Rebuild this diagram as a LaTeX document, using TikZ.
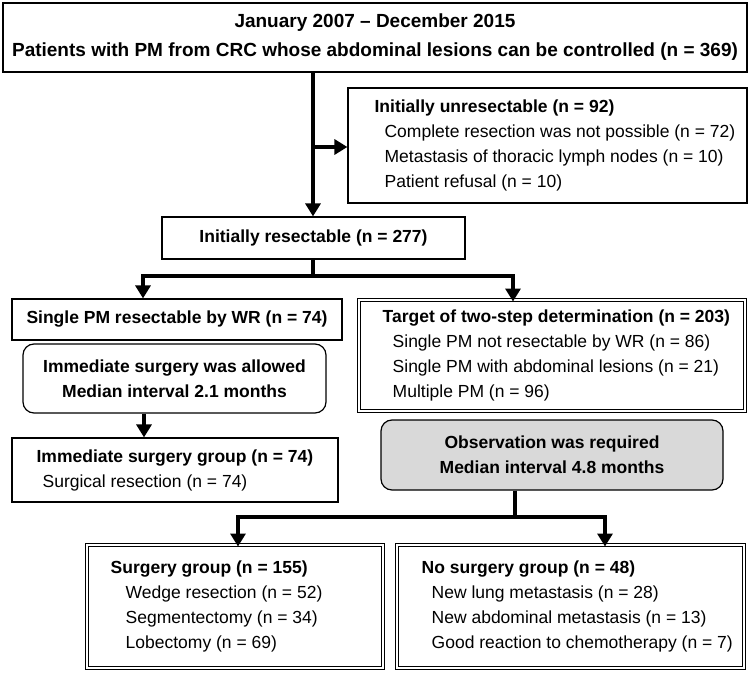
\documentclass[tikz,border=0pt]{standalone}
\usepackage{fontspec}
\setmainfont{Liberation Sans}
\usetikzlibrary{arrows.meta,positioning}
\definecolor{ink}{HTML}{000000}
\definecolor{obsgray}{HTML}{D9D9D9}
\tikzset{
  plainbox/.style={draw=ink,line width=1.2pt,fill=white,inner sep=0pt},
  titlebox/.style={plainbox,align=center,font=\fontsize{17.5}{25}\selectfont\bfseries},
  dblbox/.style={plainbox,line width=1pt,double=white,double distance=2pt},
  roundbox/.style={titlebox,rounded corners=11pt},
  listtext/.style={anchor=west,align=left,inner sep=0pt,font=\fontsize{17.5}{25}\selectfont},
  flow/.style={line width=4.5pt,draw=ink},
  arrow/.style={flow,-{Triangle[length=13pt,width=15pt]}}
}
\newcommand{\subline}[2][10pt]{\\\hspace*{#1}#2}

\begin{document}
\begin{tikzpicture}[x=1pt,y=-1pt]
  \useasboundingbox (0,0) rectangle (750,674);

  \node[titlebox,font=\fontsize{19}{25}\selectfont\bfseries,minimum width=744pt,minimum height=69pt] (top) at (375,37.5)
    {January 2007 – December 2015\\[4pt]Patients with PM from CRC whose abdominal lesions can be controlled (n = 369)};

  \node[plainbox,minimum width=399pt,minimum height=115pt] (unres) at (547.5,145.5) {};
  \node[listtext] (unrestext) at ([xshift=27pt]unres.west)
    {\textbf{Initially unresectable (n = 92)}%
     \subline{Complete resection was not possible (n = 72)}%
     \subline{Metastasis of thoracic lymph nodes (n = 10)}%
     \subline{Patient refusal (n = 10)}};

  \node[titlebox,minimum width=303pt,minimum height=42pt] (resect) at (313.5,238) {Initially resectable (n = 277)};

  \node[titlebox,minimum width=330pt,minimum height=41pt] (single) at (177,319.5) {Single PM resectable by WR (n = 74)};

  \node[dblbox,minimum width=386pt,minimum height=111pt] (target) at (552,355.5) {};
  \node[listtext] (targettext) at ([xshift=24pt]target.west)
    {\textbf{Target of two-step determination (n = 203)}%
     \subline{Single PM not resectable by WR (n = 86)}%
     \subline{Single PM with abdominal lesions (n = 21)}%
     \subline{Multiple PM (n = 96)}};

  \node[roundbox,minimum width=303pt,minimum height=69pt] (immed) at (174.5,378.5)
    {Immediate surgery was allowed\\Median interval 2.1 months};

  \node[plainbox,minimum width=326pt,minimum height=64pt] (igroup) at (175,470) {};
  \node[listtext] (igrouptext) at ([xshift=25pt]igroup.west)
    {\textbf{Immediate surgery group (n = 74)}%
     \subline[6pt]{Surgical resection (n = 74)}};

  \node[roundbox,fill=obsgray,minimum width=342pt,minimum height=70pt] (obs) at (552,455)
    {Observation was required\\Median interval 4.8 months};

  \node[dblbox,minimum width=296pt,minimum height=123pt] (surg) at (235,606.5) {};
  \node[listtext] (surgtext) at ([xshift=24pt]surg.west)
    {\textbf{Surgery group (n = 155)}%
     \subline[15pt]{Wedge resection (n = 52)}%
     \subline[15pt]{Segmentectomy (n = 34)}%
     \subline[15pt]{Lobectomy (n = 69)}};

  \node[dblbox,minimum width=347pt,minimum height=123pt] (nosurg) at (570.5,606.5) {};
  \node[listtext] (nosurgtext) at ([xshift=25pt]nosurg.west)
    {\textbf{No surgery group (n = 48)}%
     \subline{New lung metastasis (n = 28)}%
     \subline{New abdominal metastasis (n = 13)}%
     \subline{Good reaction to chemotherapy (n = 7)}};

  % connectors
  \coordinate (trunk) at (313,147);
  \coordinate (forkL) at (143,276);
  \coordinate (forkR) at (513,276);
  \coordinate (drop) at (144,425);
  \coordinate (split) at (515,517);
  \coordinate (splitL) at (238,517);
  \coordinate (splitR) at (605,517);

  \draw[arrow] (top.south -| trunk) -- (resect.north -| trunk);
  \draw[arrow] (trunk) -- (trunk -| unres.west);
  \draw[arrow] (resect.south -| trunk) |- (forkL) -- (forkL |- single.north);
  \draw[arrow] (resect.south -| trunk) |- (forkR) -- ([yshift=-2pt]forkR |- target.north);
  \draw[arrow] (immed.south -| drop) -- (igroup.north -| drop);
  \draw[arrow] (obs.south -| split) |- (splitL) -- ([yshift=-2pt]splitL |- surg.north);
  \draw[arrow] (obs.south -| split) |- (splitR) -- ([yshift=-2pt]splitR |- nosurg.north);
\end{tikzpicture}
\end{document}
